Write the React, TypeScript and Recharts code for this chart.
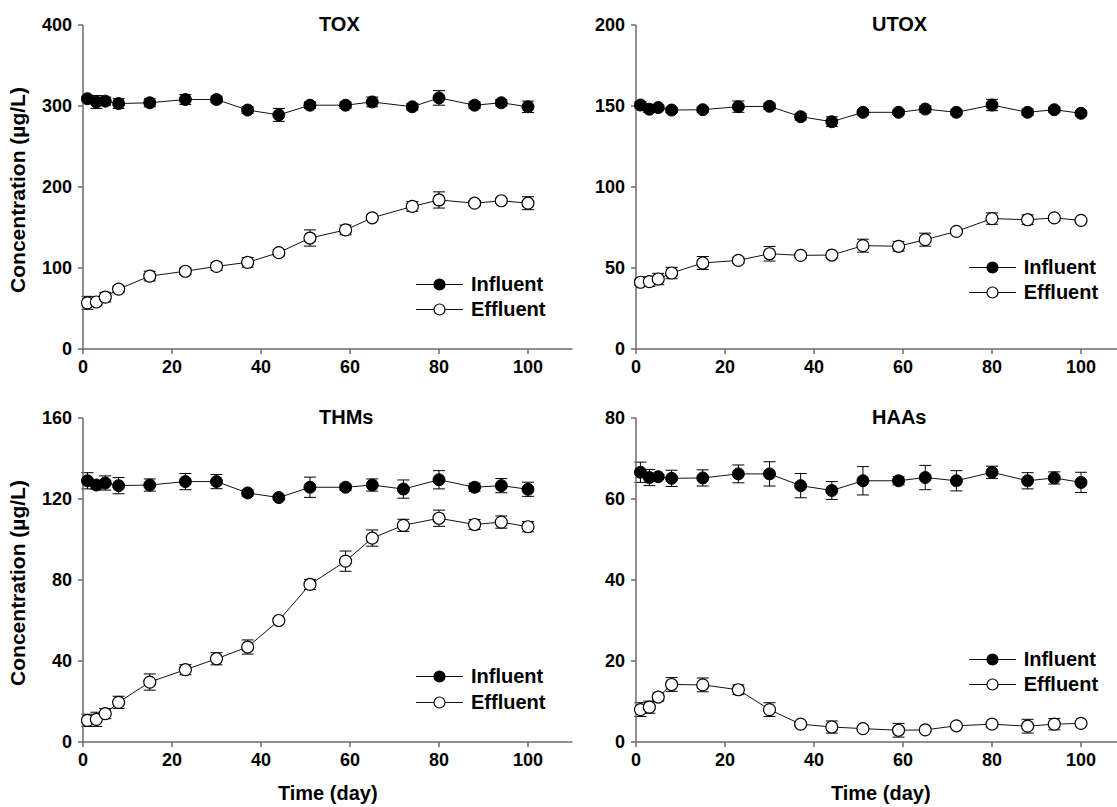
import { LineChart, Line, XAxis, YAxis, ErrorBar, Label } from 'recharts';

// sampling days (TOX panel has its 13th sample on day 74, the others on day 72)
const DAYS_TOX = [1, 3, 5, 8, 15, 23, 30, 37, 44, 51, 59, 65, 74, 80, 88, 94, 100];
const DAYS = [1, 3, 5, 8, 15, 23, 30, 37, 44, 51, 59, 65, 72, 80, 88, 94, 100];
const X_TICKS = [0, 20, 40, 60, 80, 100];

const TOX_INF = [309, 305, 306, 303, 304, 308, 308, 295, 289, 301, 301, 305, 299, 310, 301, 304, 299];
const TOX_INF_ERR = [3, 8, 5, 6, 5, 6, 4, 4, 8, 4, 4, 6, 4, 9, 4, 4, 7];
const TOX_EFF = [57, 58, 64, 74, 90, 96, 102, 107, 119, 137, 147, 162, 176, 184, 180, 183, 180];
const TOX_EFF_ERR = [8, 4, 6, 4, 6, 4, 5, 6, 4, 10, 6, 3, 6, 10, 3, 3, 8];

const UTOX_INF = [150.6, 148, 149, 147.5, 147.7, 149.6, 149.8, 143.4, 140.3, 146.1, 146.1, 148.1, 146.1, 150.6, 146.1, 147.7, 145.5];
const UTOX_INF_ERR = [2, 2, 1.5, 1.5, 1.5, 3.5, 2, 2, 3, 1.5, 1.5, 2, 1.5, 3.5, 2, 1.5, 1.5];
const UTOX_EFF = [41.2, 41.6, 43.2, 46.9, 53.1, 54.7, 58.8, 57.8, 58, 63.8, 63.4, 67.5, 72.6, 80.5, 79.8, 80.9, 79.4];
const UTOX_EFF_ERR = [2, 3, 3.5, 3.5, 4, 2, 4.5, 1.5, 1.5, 4, 3, 4, 1.5, 3.5, 3, 1.5, 1];

const THM_INF = [129, 126.9, 127.9, 126.6, 126.9, 128.6, 128.6, 123, 120.7, 125.8, 125.8, 126.9, 124.9, 129.5, 125.8, 126.6, 124.8];
const THM_INF_ERR = [4, 2, 3.5, 4, 3, 4, 3.5, 1.5, 1, 5, 1.5, 3, 4.5, 4.5, 2, 3.5, 3.5];
const THM_EFF = [10.7, 11.2, 14, 19.6, 29.6, 35.7, 41.1, 46.9, 60, 77.8, 89.3, 100.7, 107, 110.5, 107.4, 108.6, 106.3];
const THM_EFF_ERR = [3, 3.5, 2.5, 3, 4, 2.5, 3, 3.5, 1, 2.5, 5, 4, 3, 4, 2.5, 3, 2.5];

const HAA_INF = [66.6, 65.3, 65.5, 65.1, 65.2, 66.2, 66.2, 63.3, 62.1, 64.5, 64.5, 65.3, 64.5, 66.6, 64.5, 65.2, 64.1];
const HAA_INF_ERR = [2.5, 2, 0.5, 2, 2, 2.2, 3, 3, 2.2, 3.5, 1, 3, 2.5, 1.5, 2, 1.5, 2.5];
const HAA_EFF = [8.0, 8.6, 11.1, 14.2, 14.1, 12.9, 8.0, 4.4, 3.7, 3.3, 2.9, 3.0, 4.0, 4.4, 3.9, 4.4, 4.6];
const HAA_EFF_ERR = [1.7, 1.5, 1, 1.7, 1.7, 1.2, 1.7, 0.5, 1.5, 0.5, 1.7, 0.5, 0.5, 0.5, 1.7, 1.4, 0.5];

const AXIS = '#6b6b6b';
const FONT = '"Liberation Sans", Arial, Helvetica, sans-serif';

type PanelProps = {
  left: number;
  top: number;
  title: string;
  days: number[];
  inf: number[];
  infErr: number[];
  eff: number[];
  effErr: number[];
  yMax: number;
  yTicks: number[];
  yLabel?: boolean;
  xLabel?: boolean;
  legendTop: number;
};

// legend drawn beside the chart so it doesn't shrink the plot area
const LegendRows = ({ left, top }: { left: number; top: number }) => {
  const rows = [
    { name: 'Influent', fill: '#000' },
    { name: 'Effluent', fill: '#fff' },
  ];
  return (
    <div style={{ position: 'absolute', left, top }}>
      {rows.map((r) => (
        <div key={r.name} style={{ display: 'flex', alignItems: 'center', height: 25.5 }}>
          <svg width={47} height={25} style={{ display: 'block' }}>
            <line x1={0} y1={12.5} x2={47} y2={12.5} stroke="#111" strokeWidth={1} />
            <circle cx={23.5} cy={12.5} r={5.5} fill={r.fill} stroke="#000" strokeWidth={1.2} />
          </svg>
          <span style={{ marginLeft: 8, fontSize: 20, fontWeight: 700, lineHeight: '25px', color: '#000' }}>
            {r.name}
          </span>
        </div>
      ))}
    </div>
  );
};

const Panel = (p: PanelProps) => {
  const data = p.days.map((d, i) => ({
    day: d,
    inf: p.inf[i],
    infErr: p.infErr[i],
    eff: p.eff[i],
    effErr: p.effErr[i],
  }));
  const height = p.xLabel ? 414 : 400;

  // y axis title and panel title, placed from the y axis box
  const renderYText = (props: any) => {
    const vb = props.viewBox || { x: 0, y: 25, width: 83, height: 324 };
    const axisX = vb.x + vb.width;
    const cy = vb.y + vb.height / 2 + 3;
    return (
      <g>
        <text x={axisX + 236} y={vb.y + 6} fontSize={20} fontWeight={700} fill="#000">
          {p.title}
        </text>
        {p.yLabel && (
          <text
            x={25}
            y={cy}
            transform={`rotate(-90, 25, ${cy})`}
            textAnchor="middle"
            fontSize={21}
            fontWeight={700}
            fill="#000"
          >
            Concentration (µg/L)
          </text>
        )}
      </g>
    );
  };

  const renderXText = (props: any) => {
    if (!p.xLabel) return null;
    const vb = props.viewBox || { x: 83, y: 349, width: 489.5, height: 30 };
    return (
      <text x={vb.x + vb.width / 2} y={vb.y + 58} textAnchor="middle" fontSize={20} fontWeight={700} fill="#000">
        Time (day)
      </text>
    );
  };

  return (
    <div style={{ position: 'absolute', left: p.left, top: p.top }}>
      <LineChart
        width={575}
        height={height}
        data={data}
        margin={{ top: 25, right: 2.5, left: 0, bottom: height - 349 - 30 }}
      >
        <XAxis
          dataKey="day"
          type="number"
          domain={[0, 110]}
          ticks={X_TICKS}
          interval={0}
          height={30}
          tickSize={5}
          tickMargin={6}
          axisLine={{ stroke: AXIS, strokeWidth: 1.5 }}
          tickLine={{ stroke: AXIS, strokeWidth: 1.5 }}
          tick={{ fill: '#000', fontSize: 18, fontWeight: 700 }}
        >
          <Label content={renderXText} />
        </XAxis>
        <YAxis
          type="number"
          domain={[0, p.yMax]}
          ticks={p.yTicks}
          interval={0}
          width={83}
          tickSize={5}
          tickMargin={6}
          axisLine={{ stroke: AXIS, strokeWidth: 1.5 }}
          tickLine={{ stroke: AXIS, strokeWidth: 1.5 }}
          tick={{ fill: '#000', fontSize: 18, fontWeight: 700 }}
        >
          <Label content={renderYText} />
        </YAxis>
        <Line
          dataKey="inf"
          stroke="#111"
          strokeWidth={1}
          dot={{ r: 6, fill: '#000', stroke: '#000', strokeWidth: 1 }}
          activeDot={false}
          isAnimationActive={false}
        >
          <ErrorBar dataKey="infErr" width={6} stroke="#000" strokeWidth={1} direction="y" />
        </Line>
        <Line
          dataKey="eff"
          stroke="#111"
          strokeWidth={1}
          dot={{ r: 6, fill: '#fff', stroke: '#000', strokeWidth: 1.2 }}
          activeDot={false}
          isAnimationActive={false}
        >
          <ErrorBar dataKey="effErr" width={6} stroke="#000" strokeWidth={1} direction="y" />
        </Line>
      </LineChart>
      <LegendRows left={416} top={p.legendTop} />
    </div>
  );
};

export default function App() {
  return (
    <div
      style={{
        position: 'absolute',
        left: 0,
        top: 0,
        width: 1117,
        height: 807,
        overflow: 'hidden',
        background: '#fff',
        fontFamily: FONT,
      }}
    >
      <Panel
        left={0}
        top={0}
        title="TOX"
        days={DAYS_TOX}
        inf={TOX_INF}
        infErr={TOX_INF_ERR}
        eff={TOX_EFF}
        effErr={TOX_EFF_ERR}
        yMax={400}
        yTicks={[0, 100, 200, 300, 400]}
        yLabel
        legendTop={271.5}
      />
      <Panel
        left={552.7}
        top={0}
        title="UTOX"
        days={DAYS}
        inf={UTOX_INF}
        infErr={UTOX_INF_ERR}
        eff={UTOX_EFF}
        effErr={UTOX_EFF_ERR}
        yMax={200}
        yTicks={[0, 50, 100, 150, 200]}
        legendTop={254.5}
      />
      <Panel
        left={0}
        top={392.7}
        title="THMs"
        days={DAYS}
        inf={THM_INF}
        infErr={THM_INF_ERR}
        eff={THM_EFF}
        effErr={THM_EFF_ERR}
        yMax={160}
        yTicks={[0, 40, 80, 120, 160]}
        yLabel
        xLabel
        legendTop={271.5}
      />
      <Panel
        left={552.7}
        top={392.7}
        title="HAAs"
        days={DAYS}
        inf={HAA_INF}
        infErr={HAA_INF_ERR}
        eff={HAA_EFF}
        effErr={HAA_EFF_ERR}
        yMax={80}
        yTicks={[0, 20, 40, 60, 80]}
        xLabel
        legendTop={254}
      />
    </div>
  );
}
